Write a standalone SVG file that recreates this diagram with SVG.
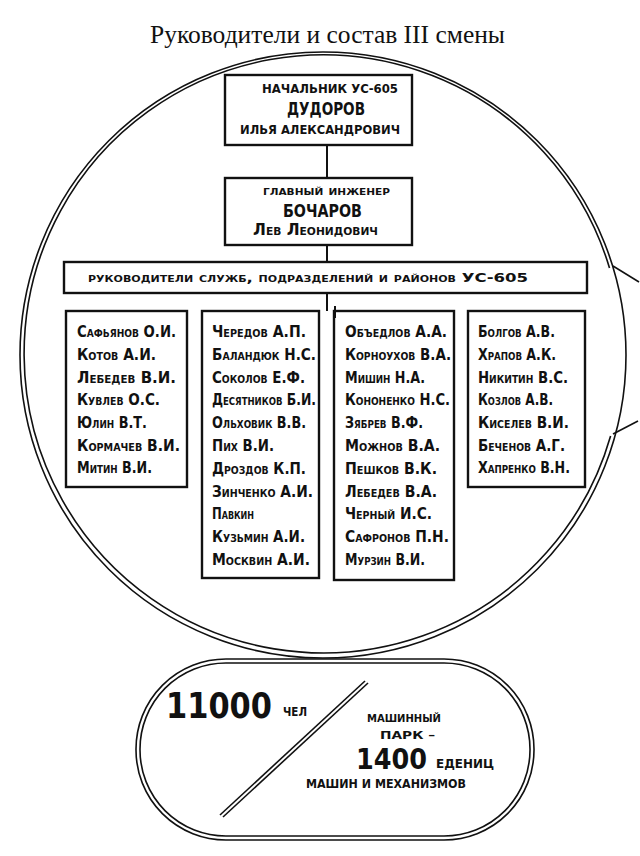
<svg xmlns="http://www.w3.org/2000/svg" width="640" height="856" viewBox="0 0 640 856">
<style>
.bg{fill:#fff}
.ln{fill:none;stroke:#111;stroke-width:1.6}
.box{fill:#fff;stroke:#111;stroke-width:2.4}
.con{stroke:#111;stroke-width:2;fill:none}
.title{font-family:"Liberation Serif","Times New Roman",serif;font-size:24.5px;fill:#111}
.h{font-family:"DejaVu Sans Condensed","DejaVu Sans",sans-serif;font-stretch:condensed;font-weight:bold;font-variant:small-caps;fill:#111}
.up{text-transform:uppercase;font-variant:normal}
.nm{font-size:16px}
.c{text-anchor:middle}
</style>
<rect class="bg" x="0" y="0" width="640" height="856"/>
<text class="title" x="150" y="43" textLength="355" lengthAdjust="spacingAndGlyphs">Руководители и состав III смены</text>

<g id="frame">
  <circle class="ln" cx="323" cy="355" r="303"/>
  <path class="ln" d="M 609.5 268 A 299 299 0 1 0 610.6 436"/>
  <line class="ln" x1="613" y1="266" x2="639" y2="282"/>
  <line class="ln" x1="613" y1="434" x2="638" y2="421"/>
</g>

<g id="connectors">
  <line class="con" x1="327" y1="145" x2="327" y2="178"/>
  <line class="con" x1="327" y1="245" x2="327" y2="262"/>
  <line class="con" x1="327" y1="293" x2="327" y2="311"/>
</g>

<g id="head">
  <rect class="box" x="225" y="75" width="187" height="70"/>
  <text class="h up" x="262" y="93" font-size="12" textLength="136" lengthAdjust="spacingAndGlyphs">Начальник УС-605</text>
  <text class="h up" x="287" y="115" font-size="17" textLength="78" lengthAdjust="spacingAndGlyphs">Дудоров</text>
  <text class="h up" x="240" y="134" font-size="13" textLength="160" lengthAdjust="spacingAndGlyphs">Илья Александрович</text>
</g>

<g id="chief">
  <rect class="box" x="225" y="178" width="187" height="67"/>
  <text class="h" x="263" y="195" font-size="13" textLength="127" lengthAdjust="spacingAndGlyphs">главный инженер</text>
  <text class="h up" x="283" y="217" font-size="17" textLength="79" lengthAdjust="spacingAndGlyphs">Бочаров</text>
  <text class="h" x="253" y="235" font-size="16" textLength="125" lengthAdjust="spacingAndGlyphs">Лев Леонидович</text>
</g>

<g id="services">
  <rect class="box" x="64" y="262" width="523" height="31"/>
  <text class="h" x="88" y="282" font-size="12" textLength="440" lengthAdjust="spacingAndGlyphs">руководители служб, подразделений и районов УС-605</text>
</g>

<g id="col1">
  <rect class="box" x="66" y="311" width="121" height="176"/>
  <text class="h nm" x="77" y="337" textLength="99" lengthAdjust="spacingAndGlyphs">Сафьянов О.И.</text>
  <text class="h nm" x="77" y="360" textLength="79" lengthAdjust="spacingAndGlyphs">Котов А.И.</text>
  <text class="h nm" x="77" y="383" textLength="99" lengthAdjust="spacingAndGlyphs">Лебедев В.И.</text>
  <text class="h nm" x="77" y="405" textLength="83" lengthAdjust="spacingAndGlyphs">Кувлев О.С.</text>
  <text class="h nm" x="77" y="428" textLength="70" lengthAdjust="spacingAndGlyphs">Юлин В.Т.</text>
  <text class="h nm" x="77" y="451" textLength="103" lengthAdjust="spacingAndGlyphs">Кормачев В.И.</text>
  <text class="h nm" x="77" y="473" textLength="75" lengthAdjust="spacingAndGlyphs">Митин В.И.</text>
</g>

<g id="col2">
  <rect class="box" x="202" y="311" width="117" height="267"/>
  <text class="h nm" x="212" y="337" textLength="94" lengthAdjust="spacingAndGlyphs">Чередов А.П.</text>
  <text class="h nm" x="212" y="360" textLength="104" lengthAdjust="spacingAndGlyphs">Баландюк Н.С.</text>
  <text class="h nm" x="212" y="383" textLength="93" lengthAdjust="spacingAndGlyphs">Соколов Е.Ф.</text>
  <text class="h nm" x="212" y="405" textLength="104" lengthAdjust="spacingAndGlyphs">Десятников Б.И.</text>
  <text class="h nm" x="212" y="428" textLength="94" lengthAdjust="spacingAndGlyphs">Ольховик В.В.</text>
  <text class="h nm" x="212" y="451" textLength="62" lengthAdjust="spacingAndGlyphs">Пих В.И.</text>
  <text class="h nm" x="212" y="474" textLength="94" lengthAdjust="spacingAndGlyphs">Дроздов К.П.</text>
  <text class="h nm" x="212" y="497" textLength="101" lengthAdjust="spacingAndGlyphs">Зинченко А.И.</text>
  <text class="h nm" x="212" y="519" textLength="42" lengthAdjust="spacingAndGlyphs">Павкин</text>
  <text class="h nm" x="212" y="542" textLength="93" lengthAdjust="spacingAndGlyphs">Кузьмин А.И.</text>
  <text class="h nm" x="212" y="565" textLength="98" lengthAdjust="spacingAndGlyphs">Москвин А.И.</text>
</g>

<g id="col3">
  <rect class="box" x="334" y="311" width="120" height="269"/>
  <line class="con" x1="335" y1="306" x2="335" y2="318" stroke-width="3"/>
  <text class="h nm" x="345" y="337" textLength="102" lengthAdjust="spacingAndGlyphs">Объедлов А.А.</text>
  <text class="h nm" x="345" y="360" textLength="106" lengthAdjust="spacingAndGlyphs">Корноухов В.А.</text>
  <text class="h nm" x="345" y="383" textLength="80" lengthAdjust="spacingAndGlyphs">Мишин Н.А.</text>
  <text class="h nm" x="345" y="405" textLength="105" lengthAdjust="spacingAndGlyphs">Кононенко Н.С.</text>
  <text class="h nm" x="345" y="428" textLength="78" lengthAdjust="spacingAndGlyphs">Зябрев В.Ф.</text>
  <text class="h nm" x="345" y="451" textLength="95" lengthAdjust="spacingAndGlyphs">Можнов В.А.</text>
  <text class="h nm" x="345" y="474" textLength="92" lengthAdjust="spacingAndGlyphs">Пешков В.К.</text>
  <text class="h nm" x="345" y="497" textLength="92" lengthAdjust="spacingAndGlyphs">Лебедев В.А.</text>
  <text class="h nm" x="345" y="519" textLength="87" lengthAdjust="spacingAndGlyphs">Черный И.С.</text>
  <text class="h nm" x="345" y="542" textLength="104" lengthAdjust="spacingAndGlyphs">Сафронов П.Н.</text>
  <text class="h nm" x="345" y="565" textLength="80" lengthAdjust="spacingAndGlyphs">Мурзин В.И.</text>
</g>

<g id="col4">
  <rect class="box" x="468" y="311" width="117" height="176"/>
  <text class="h nm" x="478" y="337" textLength="77" lengthAdjust="spacingAndGlyphs">Болгов А.В.</text>
  <text class="h nm" x="478" y="360" textLength="78" lengthAdjust="spacingAndGlyphs">Храпов А.К.</text>
  <text class="h nm" x="478" y="383" textLength="90" lengthAdjust="spacingAndGlyphs">Никитин В.С.</text>
  <text class="h nm" x="478" y="405" textLength="75" lengthAdjust="spacingAndGlyphs">Козлов А.В.</text>
  <text class="h nm" x="478" y="428" textLength="91" lengthAdjust="spacingAndGlyphs">Киселев В.И.</text>
  <text class="h nm" x="478" y="451" textLength="87" lengthAdjust="spacingAndGlyphs">Беченов А.Г.</text>
  <text class="h nm" x="478" y="473" textLength="92" lengthAdjust="spacingAndGlyphs">Хапренко В.Н.</text>
</g>

<g id="summary">
  <rect class="ln" x="136" y="659" width="398" height="181" rx="90" ry="90"/>
  <rect class="ln" x="140" y="663" width="390" height="173" rx="86" ry="86"/>
  <line class="ln" x1="220" y1="815" x2="365" y2="681"/>
  <line class="ln" x1="223" y1="817" x2="368" y2="683"/>
  <text class="h" x="166" y="718" font-size="36" font-variant="normal" textLength="106" lengthAdjust="spacingAndGlyphs">11000</text>
  <text class="h" x="283" y="716" font-size="17" textLength="24" lengthAdjust="spacingAndGlyphs">чел</text>
  <text class="h up" x="367" y="722" font-size="11" textLength="74" lengthAdjust="spacingAndGlyphs">машинный</text>
  <text class="h up" x="380" y="739" font-size="11" textLength="55" lengthAdjust="spacingAndGlyphs">парк –</text>
  <text class="h" x="356" y="769" font-size="28" font-variant="normal" textLength="71" lengthAdjust="spacingAndGlyphs">1400</text>
  <text class="h" x="436" y="768" font-size="17" textLength="58" lengthAdjust="spacingAndGlyphs">едениц</text>
  <text class="h up" x="306" y="788" font-size="12" textLength="160" lengthAdjust="spacingAndGlyphs">машин и механизмов</text>
</g>
</svg>
